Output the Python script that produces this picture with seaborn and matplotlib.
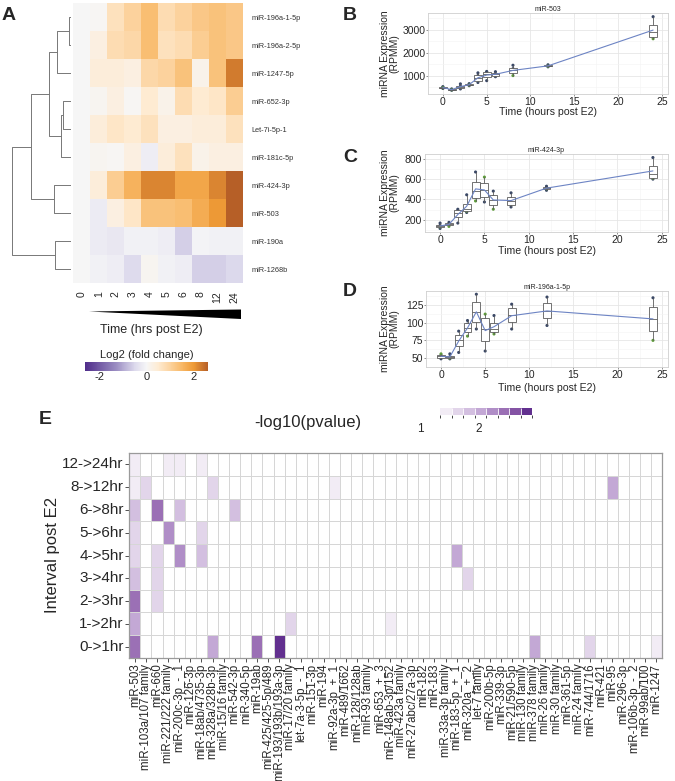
import matplotlib
matplotlib.use("Agg")
import matplotlib.pyplot as plt
import numpy as np
import pandas as pd
import seaborn as sns
from matplotlib.cm import ScalarMappable
from matplotlib.colors import (BoundaryNorm, LinearSegmentedColormap,
                               ListedColormap, Normalize)
from matplotlib.patches import Polygon

W, H = 675, 781

# ---------------- panel A: log2 fold change heatmap
A_MIRNAS = ["miR-196a-1-5p", "miR-196a-2-5p", "miR-1247-5p", "miR-652-3p",
            "Let-7i-5p-1", "miR-181c-5p", "miR-424-3p", "miR-503",
            "miR-190a", "miR-1268b"]
A_TIMES = ["0", "1", "2", "3", "4", "5", "6", "8", "12", "24"]
A_LOG2FC = [
    [0.0, 0.05, 0.7, 1.0, 1.4, 0.8, 1.0, 1.2, 1.3, 1.2],
    [0.0, 0.3, 0.8, 0.9, 1.4, 0.7, 0.8, 1.1, 1.3, 1.2],
    [0.0, 0.4, 0.4, 0.3, 0.9, 1.0, 1.3, 0.2, 1.3, 2.3],
    [0.0, 0.1, 0.3, 0.05, 0.5, 0.2, 0.8, 0.5, 0.6, 1.1],
    [0.0, 0.4, 0.6, 0.5, 0.7, 0.3, 0.3, 0.4, 0.4, 0.7],
    [0.0, 0.1, 0.05, 0.3, -0.15, 0.4, 0.7, 0.2, 0.3, 0.3],
    [0.0, 0.4, 1.1, 1.6, 2.2, 2.2, 1.8, 1.8, 2.2, 2.6],
    [0.0, -0.2, 0.3, 0.6, 1.3, 1.3, 1.4, 1.7, 2.0, 3.0],
    [0.0, -0.2, -0.25, -0.1, -0.1, -0.15, -0.6, -0.05, -0.1, -0.1],
    [0.0, -0.1, -0.15, -0.45, 0.1, -0.1, -0.15, -0.6, -0.6, -0.5],
]
# row clustering: (node a, node b, merge height); leaves are 0..9, merges get 10..
A_MERGES = [(0, 1, 2.0), (10, 2, 13.7), (3, 4, 7.7), (12, 5, 10.3),
            (11, 13, 21.7), (6, 7, 16.7), (14, 15, 40.3), (8, 9, 16.0),
            (16, 17, 59.3)]

# ---------------- panels B-D: expression over time (4 replicates)
TIME_HOURS = [0, 1, 2, 3, 4, 5, 6, 8, 12, 24]
REPLICATES = ["rep1", "rep2", "rep3", "rep4"]
MIR503_RPMM = [
    [520, 420, 640, 650, 1120, 1180, 1170, 1450, 1470, 3560],
    [440, 360, 420, 560, 700, 780, 950, 1300, 1380, 3050],
    [490, 400, 540, 620, 1000, 1150, 1080, 1150, 1430, 2700],
    [470, 380, 480, 590, 800, 980, 1020, 1000, 1410, 2600],
]
MIR424_RPMM = [
    [168, 175, 304, 446, 670, 540, 482, 465, 530, 812],
    [115, 150, 168, 272, 540, 375, 430, 326, 490, 700],
    [145, 160, 290, 330, 420, 440, 365, 410, 520, 600],
    [130, 135, 245, 285, 385, 620, 304, 355, 505, 610],
]
MIR196A_RPMM = [
    [49, 56, 88, 103, 140, 60, 110, 126, 136, 135],
    [51, 49, 58, 88, 91, 79, 87, 91, 96, 93],
    [54, 52, 80, 98, 126, 104, 96, 118, 124, 118],
    [56, 50, 70, 81, 104, 112, 84, 104, 110, 75],
]

# ---------------- panel E: -log10(pvalue) per interval
E_INTERVALS = ["12->24hr", "8->12hr", "6->8hr", "5->6hr", "4->5hr",
               "3->4hr", "2->3hr", "1->2hr", "0->1hr"]
E_MIRNAS = ["miR-503", "miR-103a/107 family", "miR-660", "miR-221/222 family",
            "miR-200c-3p_-_1", "miR-126-3p", "miR-18ab/4735-3p",
            "miR-328a/328b-3p", "miR-15/16 family", "miR-542-3p", "miR-340-5p",
            "miR-19ab", "miR-425/425-5p/489", "miR-193/193b/193a-3p",
            "miR-17/20 family", "let-7a-3-5p_-_1", "miR-151-3p", "miR-194",
            "miR-92a-3p_+_1", "miR-489/1662", "miR-128/128ab", "miR-93 family",
            "miR-653_+_3", "miR-148ab-3p/152", "miR-423a family",
            "miR-27abc/27a-3p", "miR-182", "miR-183", "miR-33a-3p family",
            "miR-183-5p_+_1", "miR-320a_+_2", "let-7 family", "miR-200b-5p",
            "miR-339-3p", "miR-21/590-5p", "miR-130 family", "miR-378 family",
            "miR-26 family", "miR-30 family", "miR-361-5p", "miR-24 family",
            "miR-744/1716", "miR-421", "miR-95", "miR-296-3p",
            "miR-106b-3p_-_2", "miR-99ab/100", "miR-1247"]
E_HITS = [
    ("12->24hr", "miR-503", 1.45), ("12->24hr", "miR-221/222 family", 1.4),
    ("12->24hr", "miR-200c-3p_-_1", 1.45), ("12->24hr", "miR-18ab/4735-3p", 1.4),
    ("8->12hr", "miR-503", 1.45), ("8->12hr", "miR-103a/107 family", 1.6),
    ("8->12hr", "miR-328a/328b-3p", 1.62), ("8->12hr", "miR-92a-3p_+_1", 1.4),
    ("8->12hr", "miR-95", 2.0),
    ("6->8hr", "miR-503", 1.85), ("6->8hr", "miR-660", 2.4),
    ("6->8hr", "miR-200c-3p_-_1", 1.82), ("6->8hr", "miR-542-3p", 1.84),
    ("5->6hr", "miR-503", 1.55), ("5->6hr", "miR-221/222 family", 2.2),
    ("5->6hr", "miR-18ab/4735-3p", 1.6),
    ("4->5hr", "miR-503", 1.58), ("4->5hr", "miR-660", 1.56),
    ("4->5hr", "miR-200c-3p_-_1", 2.2), ("4->5hr", "miR-18ab/4735-3p", 1.8),
    ("4->5hr", "miR-183-5p_+_1", 1.95),
    ("3->4hr", "miR-503", 1.85), ("3->4hr", "miR-660", 1.6),
    ("3->4hr", "miR-320a_+_2", 1.6),
    ("2->3hr", "miR-503", 2.42), ("2->3hr", "miR-660", 1.57),
    ("1->2hr", "miR-503", 2.0), ("1->2hr", "miR-17/20 family", 1.62),
    ("1->2hr", "miR-148ab-3p/152", 1.42),
    ("0->1hr", "miR-503", 2.4), ("0->1hr", "miR-328a/328b-3p", 1.98),
    ("0->1hr", "miR-19ab", 2.45), ("0->1hr", "miR-193/193b/193a-3p", 2.85),
    ("0->1hr", "miR-378 family", 2.05), ("0->1hr", "miR-744/1716", 1.6),
    ("0->1hr", "miR-1247", 1.4),
]
E_BOUNDS = [0, 1.34, 1.535, 1.73, 1.925, 2.12, 2.315, 2.51, 2.705, 2.9]
E_LEVEL_COLORS = ["#f2ecf5", "#e2d5ea", "#d3bfe0", "#c3a8d5", "#b08ec7",
                  "#9b70b5", "#8453a4", "#62308f"]

sns.set_style("white")
plt.rcParams["font.family"] = ["Liberation Sans", "DejaVu Sans"]
plt.rcParams["axes.unicode_minus"] = False

fig = plt.figure(figsize=(W / 100, H / 100), dpi=100)


def add_px_axes(x0, y0, x1, y1):
    return fig.add_axes([x0 / W, 1 - y1 / H, (x1 - x0) / W, (y1 - y0) / H])


def fig_text(x, y, s, **kw):
    kw.setdefault("ha", "center")
    kw.setdefault("va", "center")
    fig.text(x / W, 1 - y / H, s, **kw)


# ---------------- A
fc_cmap = LinearSegmentedColormap.from_list("fc", [
    (0.0, "#4f2d8a"), (1.3 / 5.2, "#9a8cc2"), (2.1 / 5.2, "#dcd9ec"),
    (0.5, "#f6f6f7"), (3.1 / 5.2, "#feebd2"), (3.6 / 5.2, "#fcd39e"),
    (4.1 / 5.2, "#f8b867"), (4.6 / 5.2, "#ee9a36"), (1.0, "#b65f27")])
fc = pd.DataFrame(A_LOG2FC, index=A_MIRNAS, columns=A_TIMES)
ax_hm = add_px_axes(73.3, 3.3, 242.7, 283)
sns.heatmap(fc, ax=ax_hm, cmap=fc_cmap, vmin=-2.6, vmax=2.6, cbar=False,
            xticklabels=True, yticklabels=True)
ax_hm.yaxis.tick_right()
ax_hm.tick_params(axis="y", length=0, pad=6, labelsize=5.3,
                  labelcolor="#333333", labelrotation=0)
ax_hm.tick_params(axis="x", length=0, pad=6, labelsize=7.5, labelrotation=90)
ax_hm.set_xlabel("")
ax_hm.set_ylabel("")

ax_dg = add_px_axes(8, 3.3, 71, 283)
pos = {i: i + 0.5 for i in range(len(A_MIRNAS))}
hgt = {i: 0.0 for i in range(len(A_MIRNAS))}
for k, (a, b, h) in enumerate(A_MERGES):
    node = len(A_MIRNAS) + k
    ax_dg.plot([hgt[a], h, h, hgt[b]], [pos[a], pos[a], pos[b], pos[b]],
               color="#777777", lw=0.7, solid_capstyle="butt")
    pos[node] = (pos[a] + pos[b]) / 2
    hgt[node] = h
ax_dg.set_xlim(63, 0)
ax_dg.set_ylim(len(A_MIRNAS), 0)
ax_dg.axis("off")

fig.patches.append(Polygon([(89 / W, 1 - 311.5 / H), (241 / W, 1 - 309.5 / H),
                            (241 / W, 1 - 319 / H)], closed=True,
                           transform=fig.transFigure, facecolor="black",
                           edgecolor="none"))
fig_text(151, 330, "Time (hrs post E2)", fontsize=9)
fig_text(146.5, 355, "Log2 (fold change)", fontsize=8)
ax_cb = add_px_axes(85, 362, 208, 371)
cb = fig.colorbar(ScalarMappable(Normalize(-2.6, 2.6), fc_cmap), cax=ax_cb,
                  orientation="horizontal", ticks=[-2, 0, 2])
cb.outline.set_visible(False)
ax_cb.tick_params(length=0, labelsize=8, pad=1)


# ---------------- B-D
def expression_panel(box, reps, title, yticks, label_y):
    ax = add_px_axes(*box)
    long = pd.DataFrame({
        "time": np.tile(TIME_HOURS, len(reps)),
        "rpmm": np.concatenate(reps),
        "rep": np.repeat(REPLICATES, len(TIME_HOURS)),
    })
    sns.scatterplot(data=long, x="time", y="rpmm", hue="rep",
                    palette=["#3a4866", "#3a4866", "#3a4866", "#5e9b3b"],
                    s=5, linewidth=0, legend=False, ax=ax, zorder=1)
    sns.boxplot(data=long, x="time", y="rpmm", native_scale=True, width=0.9,
                whis=(0, 100), showcaps=False, color="white",
                linecolor="#5c5c5c", linewidth=0.6, fliersize=0, ax=ax)
    sns.lineplot(data=long, x="time", y="rpmm", estimator="mean",
                 errorbar=None, color="#6d84c4", linewidth=0.8, ax=ax,
                 zorder=3)
    lo, hi = long["rpmm"].min(), long["rpmm"].max()
    pad = 0.05 * (hi - lo)
    ax.set_ylim(lo - pad, hi + pad)
    ax.set_xlim(-1.7, 25.7)
    ax.set_xticks([0, 5, 10, 15, 20, 25])
    ax.set_xticks(np.arange(2.5, 25, 5), minor=True)
    ax.set_yticks(yticks)
    step = yticks[1] - yticks[0]
    ax.set_yticks(np.arange(yticks[0] - step / 2, hi + pad, step), minor=True)
    ax.grid(which="major", color="#e6e6e6", lw=0.6)
    ax.grid(which="minor", color="#f3f3f3", lw=0.4)
    ax.set_axisbelow(True)
    for s in ax.spines.values():
        s.set_color("#cfcfcf")
        s.set_linewidth(0.6)
    ax.tick_params(which="major", length=1.5, width=0.5, color="#666666",
                   labelsize=7.5, pad=0.5, bottom=True, left=True)
    ax.tick_params(which="minor", length=0)
    ax.set_xlabel("")
    ax.set_ylabel("")
    ax.set_title(title, fontsize=5, pad=1.5)
    x0, y0, x1, y1 = box
    fig_text(390, (y0 + y1) / 2, "miRNA Expression\n(RPMM)", fontsize=7.5,
             rotation=90, linespacing=0.95)
    fig_text((x0 + x1) / 2, label_y, "Time (hours post E2)", fontsize=7.6)


expression_panel((428, 13, 668, 94), MIR503_RPMM, "miR-503",
                 [1000, 2000, 3000], 112)
expression_panel((425, 154, 668, 232), MIR424_RPMM, "miR-424-3p",
                 [200, 400, 600, 800], 251)
expression_panel((426, 291, 668, 367), MIR196A_RPMM, "miR-196a-1-5p",
                 [50, 75, 100, 125], 388)

# ---------------- E
pv = pd.DataFrame(0.0, index=E_INTERVALS, columns=E_MIRNAS)
for interval, mirna, val in E_HITS:
    pv.loc[interval, mirna] = val
e_cmap = ListedColormap(["white"] + E_LEVEL_COLORS)
e_norm = BoundaryNorm(E_BOUNDS, e_cmap.N)
ax_e = add_px_axes(129.3, 453, 662, 658)
sns.heatmap(pv, ax=ax_e, cmap=e_cmap, norm=e_norm, cbar=False,
            linewidths=0.6, linecolor="#d6d6d6", xticklabels=True,
            yticklabels=True)
for s in ax_e.spines.values():
    s.set_visible(True)
    s.set_color("#9a9a9a")
    s.set_linewidth(0.9)
ax_e.tick_params(axis="x", bottom=True, length=3, width=0.6, color="#333333",
                 labelsize=8.3, labelrotation=90, pad=1)
ax_e.tick_params(axis="y", left=True, length=3, width=0.6, color="#333333",
                 labelsize=11, labelrotation=0, pad=1)
ax_e.set_xlabel("")
ax_e.set_ylabel("")
fig_text(53, 555, "Interval post E2", fontsize=12, rotation=90)

ax_ecb = add_px_axes(440, 408, 532, 415)
cb_e = fig.colorbar(ScalarMappable(BoundaryNorm(E_BOUNDS[1:], len(E_LEVEL_COLORS)),
                                   ListedColormap(E_LEVEL_COLORS)),
                    cax=ax_ecb, orientation="horizontal", ticks=[],
                    drawedges=True)
cb_e.outline.set_visible(False)
cb_e.dividers.set_color("white")
cb_e.dividers.set_linewidth(0.6)


def legend_x(v):
    return 440 + (v - E_BOUNDS[1]) / (E_BOUNDS[-1] - E_BOUNDS[1]) * 92


fig_text(legend_x(1), 429, "1", fontsize=8.5)
fig_text(legend_x(2), 429, "2", fontsize=8.5)
fig_text(308, 423, "-log10(pvalue)", fontsize=12)

# panel letters
for letter, x, y in [("A", 8.5, 15), ("B", 350, 16), ("C", 350, 158),
                     ("D", 350, 292), ("E", 45, 420)]:
    fig_text(x, y, letter, fontsize=14, fontweight="bold")

fig.savefig("out.png", dpi=100)
